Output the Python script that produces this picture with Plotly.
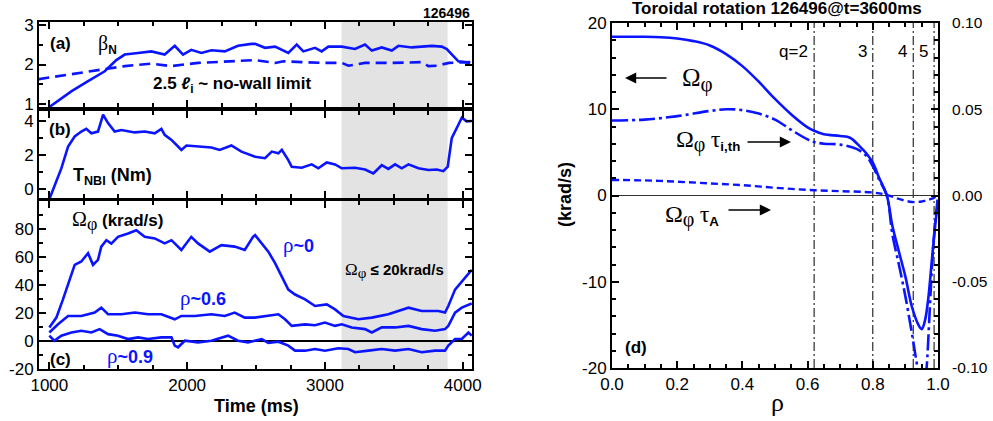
import plotly.graph_objects as go

# ---------------- data: time traces (ms) ----------------
beta_t = [1000,1162,1281,1402,1486,1547,1644,1740,1837,1910,1970,2030,2103,2176,2273,2369,2466,2493,2565,2638,2734,2795,2843,2928,2976,3025,3122,3218,3291,3340,3412,3485,3533,3630,3702,3775,3847,3884,3932,3968,4017,4053]
beta_v = [0.93,1.33,1.58,1.83,2.11,2.25,2.29,2.33,2.25,2.47,2.25,2.37,2.29,2.36,2.33,2.47,2.52,2.52,2.42,2.45,2.29,2.50,2.33,2.42,2.33,2.45,2.45,2.39,2.50,2.35,2.43,2.35,2.47,2.43,2.45,2.47,2.45,2.39,2.21,2.08,2.06,2.04]

li_t = [920,1162,1402,1547,1740,1885,2079,2273,2493,2638,2700,2831,2976,3122,3170,3291,3485,3700,3751,3811,3900,4065]
li_v = [1.63,1.75,1.88,1.96,2.02,1.96,2.04,2.08,2.11,2.04,2.08,2.06,2.04,2.04,1.97,2.04,2.04,2.06,1.96,1.97,2.04,2.06]

tnbi_t = [1000,1087,1136,1184,1232,1268,1305,1353,1390,1426,1474,1523,1620,1692,1765,1813,1837,1886,1934,1958,1995,2079,2176,2236,2321,2394,2466,2493,2565,2614,2662,2687,2734,2759,2831,2904,2952,3013,3073,3122,3218,3291,3351,3412,3460,3509,3557,3606,3678,3751,3811,3859,3891,3920,3968,3993,4029,4065]
tnbi_v = [-0.6,1.21,2.5,3.09,3.38,3.54,3.28,3.38,4.37,3.88,3.38,3.47,3.33,3.38,3.28,3.54,3.19,2.89,2.5,2.3,2.56,2.5,2.44,2.3,2.56,2.2,2.0,1.9,1.81,2.2,2.1,2.3,1.7,1.31,1.25,1.45,1.22,1.56,1.45,1.22,1.25,1.15,0.92,1.4,1.18,1.45,1.22,1.45,1.22,1.12,1.15,1.05,1.31,2.99,3.78,4.2,3.98,4.0]

r0_t = [1000,1051,1099,1148,1184,1232,1281,1317,1353,1377,1414,1450,1498,1571,1631,1692,1765,1837,1886,1958,2030,2079,2164,2249,2345,2418,2478,2493,2541,2589,2638,2687,2734,2783,2856,2928,3013,3073,3134,3243,3340,3460,3606,3702,3823,3871,3895,3944,3993,4065]
r0_v = [9.7,16.7,29.7,43.8,54.4,56.8,62.7,54.4,58,67.4,72,69.6,74.4,76.8,79.1,74.4,73.3,69.7,72,65,74.4,69.7,63.8,68.5,67.4,65,74.4,75.6,69.7,63.8,55.6,46.2,36.7,33.2,29.7,25,26.1,22.6,17.9,15.5,16.7,19.1,23.8,21.4,21.4,20.3,25,36.7,42.6,50.9]

r6_t = [1000,1063,1136,1232,1329,1377,1426,1523,1620,1716,1813,1910,1958,2055,2176,2273,2345,2418,2490,2589,2662,2710,2759,2856,2928,3000,3073,3122,3194,3291,3340,3412,3509,3606,3702,3799,3871,3895,3944,3993,4065]
r6_v = [6.1,12,17.9,17.9,20.3,23.8,19.1,19.1,20.3,19.1,19.1,15.5,17.9,17.9,19.1,17.9,20.3,16.7,16.7,17.9,19.1,15.5,10.8,11.9,11.3,13.2,10.8,11.9,9.7,8.5,6.1,9.7,9.7,10.8,8.5,7.3,8.5,10.8,20.3,23.8,26.9]

r9_t = [1000,1036,1087,1160,1232,1305,1365,1426,1498,1571,1644,1716,1813,1886,1910,1934,1983,2079,2176,2297,2369,2442,2490,2541,2589,2662,2734,2783,2856,2928,3000,3097,3170,3218,3315,3412,3509,3606,3702,3799,3871,3895,3944,3993,4041,4065]
r9_v = [3.8,0.2,3.8,6.1,7.3,6.1,8.5,4.9,3.8,1.4,2.6,1.4,2.6,2.6,-3.3,-4.5,0.2,-1,0.2,3.8,0.2,-1,0.2,1.4,-1.4,-0.5,-3.3,-6.9,-6.9,-5.7,-6.9,-5.2,-5.7,-8,-6.9,-5.7,-6.9,-5.7,-8,-6.9,-6.9,-3.3,1.4,1.4,6.1,3.8]

shade_t = [3120, 3890]

# ---------------- data: profiles vs rho ----------------
rho_om = [0.0,0.05,0.1,0.15,0.2,0.25,0.3,0.35,0.4,0.45,0.5,0.55,0.6,0.62,0.65,0.7,0.73,0.76,0.78,0.8,0.82,0.843,0.86,0.88,0.9,0.92,0.94,0.95,0.96,0.97,0.98,0.99,1.0]
omega = [18.4,18.4,18.4,18.35,18.2,17.9,17.4,16.4,15.0,13.2,11.2,9.4,7.9,7.5,7.1,6.9,6.7,5.7,4.9,3.8,2.0,0.0,-3.5,-6.5,-9.4,-12.9,-15.0,-15.5,-14.5,-12.0,-8.0,-4.0,-0.5]

rho_ti = [0.0,0.1,0.2,0.3,0.35,0.4,0.45,0.5,0.55,0.6,0.62,0.65,0.7,0.75,0.78,0.8,0.82,0.843,0.86,0.88,0.9,0.92,0.94,0.95,0.96,0.965,0.975,0.985,1.0]
omega_tau_i = [0.0435,0.044,0.046,0.049,0.050,0.0495,0.0475,0.044,0.038,0.0325,0.031,0.030,0.0295,0.027,0.023,0.017,0.009,0.0,-0.0225,-0.040,-0.0585,-0.080,-0.1025,-0.110,-0.1075,-0.100,-0.065,-0.030,0.0]

rho_ta = [0.0,0.1,0.2,0.3,0.4,0.5,0.6,0.7,0.8,0.84,0.88,0.92,0.95,0.97,0.99,1.0]
omega_tau_a = [0.009,0.00875,0.008,0.007,0.006,0.0045,0.00325,0.0025,0.00175,0.0005,-0.002,-0.00375,-0.0035,-0.0025,-0.001,0.0015]

q_rho = [0.62, 0.80, 0.924, 0.988]
q_labels = ["q=2", "3", "4", "5"]

y5_vals = [-0.10, -0.05, 0.0, 0.05, 0.10]
y5_text = ["-0.10", "-0.05", "0.00", "0.05", "0.10"]
y4_vals = [-20, -10, 0, 10, 20]
y4_text = ["-20", "-10", "0", "10", "20"]
yc_vals = [-20, 0, 20, 40, 60, 80]
yc_text = ["-20", "0", "20", "40", "60", "80"]

# ---------------- figure ----------------
W, H = 993, 421
BLUE = "#0a14ff"
SANS = "Liberation Sans Narrow, Liberation Sans, Arial, sans-serif"
SERIF = "Liberation Serif, DejaVu Serif, serif"

def PX(x):
    return x / W

def PY(y):
    return 1 - y / H

fig = go.Figure()

line_w = 2.6
fig.add_trace(go.Scatter(x=beta_t, y=beta_v, mode="lines", line=dict(color=BLUE, width=line_w), xaxis="x", yaxis="y"))
fig.add_trace(go.Scatter(x=li_t, y=li_v, mode="lines", line=dict(color=BLUE, width=line_w, dash="11px,6px"), xaxis="x", yaxis="y"))
fig.add_trace(go.Scatter(x=tnbi_t, y=tnbi_v, mode="lines", line=dict(color=BLUE, width=line_w), xaxis="x2", yaxis="y2"))
for tt, vv in ((r0_t, r0_v), (r6_t, r6_v), (r9_t, r9_v)):
    fig.add_trace(go.Scatter(x=tt, y=vv, mode="lines", line=dict(color=BLUE, width=line_w), xaxis="x3", yaxis="y3"))

fig.add_trace(go.Scatter(x=rho_om, y=omega, mode="lines", line=dict(color=BLUE, width=2.6, shape="spline"), xaxis="x4", yaxis="y4"))
fig.add_trace(go.Scatter(x=rho_ti, y=omega_tau_i, mode="lines", line=dict(color=BLUE, width=2.6, dash="16px,4px,3px,4px", shape="spline"), xaxis="x4", yaxis="y5"))
fig.add_trace(go.Scatter(x=rho_ta, y=omega_tau_a, mode="lines", line=dict(color=BLUE, width=2.4, dash="7px,4px", shape="spline"), xaxis="x4", yaxis="y5"))

tickfont = dict(family=SANS, size=17, color="black")

def axis(**kw):
    d = dict(showline=True, linecolor="black", linewidth=2, mirror="ticks",
             ticks="inside", ticklen=7, tickwidth=1.5, tickcolor="black",
             showgrid=False, zeroline=False, tickfont=tickfont, fixedrange=True, automargin=False)
    d.update(kw)
    return d

def minor(dt):
    return dict(dtick=dt, ticks="inside", ticklen=4, tickwidth=1.5, tickcolor="black", showgrid=False)

xdom_l = [PX(39), PX(472)]
xr = [925, 4067]
fig.update_layout(
    width=W, height=H, margin=dict(l=0, r=0, t=0, b=0, autoexpand=False),
    paper_bgcolor="white", plot_bgcolor="rgba(0,0,0,0)", showlegend=False,
    xaxis=axis(domain=xdom_l, range=xr, anchor="y", tickvals=[1000, 2000, 3000, 4000], showticklabels=False, minor=minor(250)),
    yaxis=axis(domain=[PY(107), PY(22)], range=[0.93, 3.07], anchor="x", tickvals=[1, 2, 3], minor=dict(minor(0.5), tick0=0)),
    xaxis2=axis(domain=xdom_l, range=xr, anchor="y2", tickvals=[1000, 2000, 3000, 4000], showticklabels=False, minor=minor(250)),
    yaxis2=axis(domain=[PY(198), PY(111)], range=[-0.53, 4.59], anchor="x2", tickvals=[0, 2, 4], minor=dict(minor(1), tick0=0)),
    xaxis3=axis(domain=xdom_l, range=xr, anchor="y3", tickvals=[1000, 2000, 3000, 4000], ticktext=["1000", "2000", "3000", "4000"], minor=minor(250)),
    yaxis3=axis(domain=[PY(369), PY(201)], range=[-20, 100], anchor="x3", tickvals=yc_vals, ticktext=yc_text, minor=dict(minor(10), tick0=0),
                zeroline=True, zerolinecolor="black", zerolinewidth=1.5),
    xaxis4=axis(domain=[PX(612), PX(938)], range=[0, 1], anchor="y4", dtick=0.2, tickformat=".1f", minor=minor(0.05)),
    yaxis4=axis(domain=[PY(368), PY(23)], range=[-20, 20], anchor="x4", mirror=False, tickvals=y4_vals, ticktext=y4_text,
                minor=dict(minor(2), tick0=0), zeroline=True, zerolinecolor="#333333", zerolinewidth=1),
    yaxis5=axis(domain=[PY(368), PY(23)], range=[-0.10, 0.10], anchor="x4", overlaying="y4", side="right", mirror=False,
                tickvals=y5_vals, ticktext=y5_text, minor=dict(minor(0.01), tick0=0), ticklabelstandoff=9,
                tickfont=dict(family=SANS, size=15.5, color="black")),
)

# shaded interval across the three time panels
fig.add_shape(type="rect", xref="x", yref="paper", x0=shade_t[0], x1=shade_t[1], y0=PY(369), y1=PY(22),
              fillcolor="#e3e3e3", line=dict(width=0), layer="below")

# q-surface lines
for r in q_rho:
    fig.add_shape(type="line", xref="x4", yref="y4 domain", x0=r, x1=r, y0=0, y1=1,
                  line=dict(color="black", width=1, dash="9px,3px,2px,3px"), layer="below")

ann = []

def text(x, y, t, size=16, bold=True, color="black", xanchor="center", family=SANS, angle=0):
    ann.append(dict(x=PX(x), y=PY(y), xref="paper", yref="paper", text=(f"<b>{t}</b>" if bold else t),
                    showarrow=False, xanchor=xanchor, yanchor="middle", textangle=angle,
                    font=dict(family=family, size=size, color=color)))

def greek(s, size):
    return f'<span style="font-family:{SERIF};font-weight:normal;font-size:{size}px">{s}</span>'

# panel (a)
text(472, 13, "126496", size=14, xanchor="right")
text(60, 43, "(a)", size=17)
ann.append(dict(x=PX(107), y=PY(44), xref="paper", yref="paper", showarrow=False, xanchor="center", yanchor="middle",
                text=greek("β", 20) + "<sub><b>N</b></sub>", font=dict(family=SANS, size=17, color="black")))
text(232, 85, "2.5 <i>ℓ</i><sub>i</sub> ~ no-wall limit", size=17)
# panel (b)
text(60, 130, "(b)", size=17)
text(112, 176, "T<sub>NBI</sub> (Nm)", size=18)
# panel (c)
ann.append(dict(x=PX(70), y=PY(221), xref="paper", yref="paper", showarrow=False, xanchor="left", yanchor="middle",
                text=greek("Ω", 20) + "<sub>" + greek("φ", 18) + "</sub><b> (krad/s)</b>", font=dict(family=SANS, size=17, color="black")))
ann.append(dict(x=PX(394), y=PY(270), xref="paper", yref="paper", showarrow=False, xanchor="center", yanchor="middle",
                text=greek("Ω", 17) + "<sub>" + greek("φ", 15) + "</sub><b> ≤ 20krad/s</b>", font=dict(family=SANS, size=15, color="black")))
ann.append(dict(x=PX(298), y=PY(245), xref="paper", yref="paper", showarrow=False, xanchor="center", yanchor="middle",
                text=greek("ρ", 21) + "<b>~0</b>", font=dict(family=SANS, size=18, color=BLUE)))
ann.append(dict(x=PX(203), y=PY(298), xref="paper", yref="paper", showarrow=False, xanchor="center", yanchor="middle",
                text=greek("ρ", 21) + "<b>~0.6</b>", font=dict(family=SANS, size=18, color=BLUE)))
ann.append(dict(x=PX(130), y=PY(356), xref="paper", yref="paper", showarrow=False, xanchor="center", yanchor="middle",
                text=greek("ρ", 21) + "<b>~0.9</b>", font=dict(family=SANS, size=18, color=BLUE)))
text(60, 359, "(c)", size=17)
text(256, 406, "Time (ms)", size=18)

# panel (d)
text(777, 9, "Toroidal rotation 126496@t=3600ms", size=17)
for r, lab in zip(q_rho, q_labels):
    X = 612 + 326 * r
    ann.append(dict(x=PX(X - 4), y=PY(52), xref="paper", yref="paper", showarrow=False, xanchor="right", yanchor="middle",
                    text=lab, font=dict(family=SANS, size=17, color="black")))
text(636, 347, "(d)", size=17)
text(565, 195, "(krad/s)", size=18, angle=-90)
ann.append(dict(x=PX(777), y=PY(402), xref="paper", yref="paper", showarrow=False, xanchor="center", yanchor="middle",
                text=greek("ρ", 26), font=dict(family=SERIF, size=26, color="black")))
ann.append(dict(x=PX(697), y=PY(80), xref="paper", yref="paper", showarrow=False, xanchor="center", yanchor="middle",
                text=greek("Ω", 25) + "<sub>" + greek("φ", 21) + "</sub>", font=dict(family=SERIF, size=25, color="black")))
ann.append(dict(x=PX(708), y=PY(141), xref="paper", yref="paper", showarrow=False, xanchor="center", yanchor="middle",
                text=greek("Ω", 24) + "<sub>" + greek("φ", 20) + "</sub> " + greek("τ", 24) + "<sub><b>i,th</b></sub>",
                font=dict(family=SANS, size=19, color="black")))
ann.append(dict(x=PX(692), y=PY(216), xref="paper", yref="paper", showarrow=False, xanchor="center", yanchor="middle",
                text=greek("Ω", 24) + "<sub>" + greek("φ", 20) + "</sub> " + greek("τ", 24) + "<sub><b>A</b></sub>",
                font=dict(family=SANS, size=19, color="black")))

def arrow(x_head, y, length):
    ann.append(dict(x=PX(x_head), y=PY(y), xref="paper", yref="paper", ax=length, ay=0, text="",
                    showarrow=True, arrowhead=2, arrowsize=1.4, arrowwidth=1.6, arrowcolor="black"))

arrow(625, 78, 43)
arrow(791, 142, -45)
arrow(771, 210, -44)

fig.update_layout(annotations=ann)
fig.write_html("out.html")
